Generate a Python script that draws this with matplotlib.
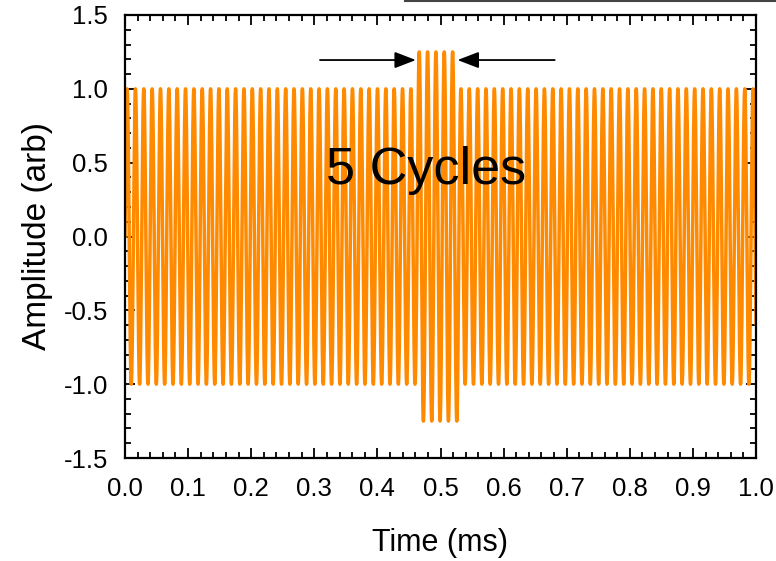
import numpy as np
import matplotlib
matplotlib.use("Agg")
import matplotlib.pyplot as plt
from matplotlib.ticker import MultipleLocator
from matplotlib.lines import Line2D

# --- data ---
carrier_freq_khz = 75.6        # cycles per ms
base_amplitude = 1.0
burst_amplitude = 1.25
burst_start_cycle = 35         # burst begins at this cycle index
burst_cycles = 5
time_range_ms = [0.0, 1.0]
annotation_text = "5 Cycles"
xticks = [0.0, 0.1, 0.2, 0.3, 0.4, 0.5, 0.6, 0.7, 0.8, 0.9, 1.0]
yticks = [-1.5, -1.0, -0.5, 0.0, 0.5, 1.0, 1.5]

t = np.linspace(time_range_ms[0], time_range_ms[1], 20001)
t0 = burst_start_cycle / carrier_freq_khz
t1 = (burst_start_cycle + burst_cycles) / carrier_freq_khz
amp = np.where((t >= t0) & (t <= t1), burst_amplitude, base_amplitude)
y = amp * np.sin(2 * np.pi * carrier_freq_khz * t)

plt.rcParams['font.family'] = ['Liberation Sans', 'DejaVu Sans']
fig = plt.figure(figsize=(7.76, 5.61), dpi=100)
ax = fig.add_axes([125/776, 1-458/561, (756-125)/776, (458-15)/561])

ax.plot(t, y, color='#FF8A00', lw=2.5)

ax.set_xlim(0, 1.0)
ax.set_ylim(-1.5, 1.5)
ax.set_xticks(xticks)
ax.set_yticks(yticks)
ax.set_xticklabels([f"{v:.1f}" for v in xticks])
ax.set_yticklabels([f"{v:.1f}" for v in yticks])
ax.xaxis.set_minor_locator(MultipleLocator(0.02))
ax.yaxis.set_minor_locator(MultipleLocator(0.1))
ax.tick_params(which='both', direction='in', top=True, right=True,
               width=1.3, color='black', labelsize=18.5)
ax.tick_params(axis='x', which='major', length=7, pad=14)
ax.tick_params(axis='y', which='major', length=7, pad=12)
ax.tick_params(which='minor', length=4)
for s in ax.spines.values():
    s.set_linewidth(1.6)
    s.set_color('black')

ax.set_xlabel("Time (ms)", fontsize=22, labelpad=19)
ax.set_ylabel("Amplitude (arb)", fontsize=24, labelpad=8)

# arrows
ax.annotate("", xy=(0.461, 1.195), xytext=(0.309, 1.195),
            arrowprops=dict(arrowstyle='-|>,head_length=1.3,head_width=0.5',
                            color='black', lw=1.3, shrinkA=0, shrinkB=0))
ax.annotate("", xy=(0.527, 1.195), xytext=(0.681, 1.195),
            arrowprops=dict(arrowstyle='-|>,head_length=1.3,head_width=0.5',
                            color='black', lw=1.3, shrinkA=0, shrinkB=0))

ax.text(0.477, 0.45, annotation_text, fontsize=37.5, ha='center', va='center', color='black')

# cropped residue at top of image
fig.text(2/776, 1 + 4/561, "the excitation", color='#FF6A00', fontsize=14,
         fontweight='bold', ha='left', va='center')
fig.add_artist(Line2D([405/776, 1.0], [1 - 1/561, 1 - 1/561], color='#444444', lw=1.5))

fig.savefig("out.png", dpi=100)
